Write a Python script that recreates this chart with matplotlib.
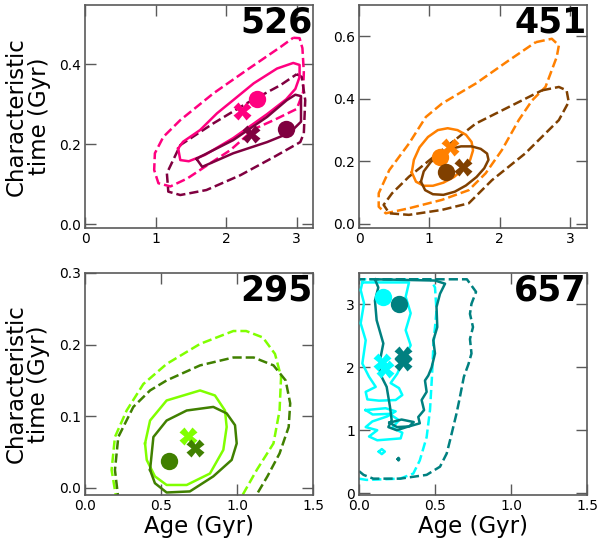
import matplotlib
matplotlib.use("Agg")
import matplotlib.pyplot as plt
import numpy as np

plt.rcParams['font.family'] = ['DejaVu Sans']

# ---------------- data ----------------
panel_names = ["526", "451", "295", "657"]

# colours: light (first) and dark (second) per panel
light_colors = ["#ff0080", "#ff8000", "#80ff00", "#00ffff"]
dark_colors = ["#800040", "#804000", "#408000", "#008080"]

xlims = [(0, 3.23), (0, 3.24), (0, 1.5), (0, 1.5)]
ylims = [(-0.01, 0.548), (-0.013, 0.70), (-0.01, 0.30), (-0.03, 3.5)]
xticks = [[0, 1, 2, 3], [0, 1, 2, 3], [0.0, 0.5, 1.0, 1.5], [0.0, 0.5, 1.0, 1.5]]
xticklabels = [["0", "1", "2", "3"], ["0", "1", "2", "3"],
               ["0.0", "0.5", "1.0", "1.5"], ["0.0", "0.5", "1.0", "1.5"]]
yticks = [[0.0, 0.2, 0.4], [0.0, 0.2, 0.4, 0.6], [0.0, 0.1, 0.2, 0.3], [0, 1, 2, 3]]
yticklabels = [["0.0", "0.2", "0.4"], ["0.0", "0.2", "0.4", "0.6"],
               ["0.0", "0.1", "0.2", "0.3"], ["0", "1", "2", "3"]]

# ---- panel 526 contours (age, tau) ----
c526_light_dash = [(2.95, 0.466), (3.04, 0.465), (3.08, 0.44), (3.10, 0.38), (3.09, 0.33),
                   (3.00, 0.288), (2.70, 0.262), (2.40, 0.238), (2.06, 0.185), (1.80, 0.155),
                   (1.45, 0.114), (1.21, 0.094), (1.04, 0.102), (0.98, 0.135), (0.99, 0.177),
                   (1.11, 0.218), (1.35, 0.26), (1.82, 0.327), (2.29, 0.385), (2.77, 0.443),
                   (2.95, 0.466)]
c526_dark_dash = [(3.00, 0.375), (3.07, 0.368), (3.12, 0.31), (3.10, 0.227), (3.05, 0.205),
                  (2.68, 0.168), (2.20, 0.122), (1.72, 0.085), (1.35, 0.0725), (1.18, 0.081),
                  (1.16, 0.127), (1.35, 0.1975), (1.82, 0.252), (2.29, 0.302), (2.77, 0.3475),
                  (3.00, 0.375)]
c526_light_solid = [(1.32, 0.189), (1.35, 0.16), (1.47, 0.157), (1.70, 0.173), (2.10, 0.215),
                    (2.58, 0.275), (2.85, 0.312), (2.98, 0.338), (3.04, 0.368), (3.04, 0.398),
                    (2.95, 0.403), (2.72, 0.389), (2.39, 0.352), (2.10, 0.31), (1.87, 0.277),
                    (1.63, 0.235), (1.39, 0.206), (1.32, 0.189)]
c526_dark_solid = [(1.58, 0.163), (1.66, 0.143), (2.10, 0.177), (2.58, 0.205), (2.90, 0.228),
                   (3.06, 0.256), (3.06, 0.32), (2.98, 0.3235), (2.86, 0.31), (2.58, 0.268),
                   (2.10, 0.21), (1.63, 0.168), (1.58, 0.163)]
m526_light_circle = [(2.43, 0.314)]
m526_light_x = [(2.23, 0.283)]
m526_dark_circle = [(2.85, 0.237)]
m526_dark_x = [(2.35, 0.225)]

# ---- panel 451 ----
c451_light_dash = [(2.51, 0.581), (2.74, 0.592), (2.84, 0.571), (2.81, 0.534), (2.65, 0.438),
                   (2.46, 0.395), (2.27, 0.332), (2.03, 0.236), (1.80, 0.162), (1.56, 0.108),
                   (1.18, 0.077), (0.71, 0.05), (0.38, 0.034), (0.28, 0.055), (0.28, 0.098),
                   (0.43, 0.172), (0.71, 0.257), (0.95, 0.342), (1.18, 0.385), (1.66, 0.449),
                   (2.13, 0.523), (2.51, 0.581)]
c451_dark_dash = [(2.60, 0.427), (2.84, 0.438), (2.95, 0.427), (2.98, 0.39), (2.84, 0.332),
                  (2.36, 0.225), (1.89, 0.14), (1.56, 0.066), (1.18, 0.045), (0.71, 0.029),
                  (0.43, 0.034), (0.35, 0.061), (0.47, 0.098), (0.71, 0.151), (1.18, 0.236),
                  (1.66, 0.321), (2.13, 0.374), (2.60, 0.427)]
c451_light_solid = [(0.75, 0.165), (0.78, 0.205), (0.86, 0.245), (0.98, 0.278), (1.12, 0.300),
                    (1.26, 0.306), (1.40, 0.300), (1.52, 0.285), (1.60, 0.262), (1.62, 0.235),
                    (1.58, 0.205), (1.48, 0.175), (1.35, 0.150), (1.20, 0.132), (1.05, 0.122),
                    (0.92, 0.122), (0.81, 0.135), (0.75, 0.165)]
c451_dark_solid = [(0.88, 0.135), (0.92, 0.168), (1.02, 0.198), (1.15, 0.222), (1.30, 0.240),
                   (1.45, 0.248), (1.60, 0.248), (1.73, 0.240), (1.82, 0.225), (1.84, 0.205),
                   (1.78, 0.178), (1.67, 0.150), (1.52, 0.123), (1.36, 0.103), (1.20, 0.093),
                   (1.05, 0.095), (0.94, 0.108), (0.88, 0.135)]
m451_light_circle = [(1.15, 0.215)]
m451_light_x = [(1.29, 0.247)]
m451_dark_circle = [(1.24, 0.167)]
m451_dark_x = [(1.48, 0.183)]

# ---- panel 295 ----
c295_light_dash = [(0.21, -0.02), (0.175, 0.025), (0.197, 0.071), (0.274, 0.108), (0.384, 0.145),
                   (0.537, 0.173), (0.757, 0.201), (0.976, 0.219), (1.06, 0.219), (1.17, 0.21),
                   (1.25, 0.187), (1.29, 0.155), (1.28, 0.108), (1.24, 0.062), (1.13, 0.025),
                   (1.01, -0.02)]
c295_dark_dash = [(0.222, -0.02), (0.197, 0.025), (0.219, 0.071), (0.318, 0.113), (0.428, 0.136),
                  (0.537, 0.15), (0.757, 0.171), (0.976, 0.182), (1.11, 0.182), (1.24, 0.171),
                  (1.32, 0.15), (1.35, 0.118), (1.34, 0.085), (1.28, 0.048), (1.20, 0.016),
                  (1.10, -0.02)]
c295_light_solid = [(0.395, 0.062), (0.428, 0.094), (0.537, 0.122), (0.757, 0.136), (0.855, 0.129),
                    (0.921, 0.108), (0.932, 0.085), (0.91, 0.053), (0.822, 0.02), (0.669, 0.004),
                    (0.537, 0.004), (0.46, 0.016), (0.406, 0.039), (0.395, 0.062)]
c295_dark_solid = [(0.428, 0.025), (0.45, 0.071), (0.537, 0.094), (0.669, 0.108), (0.844, 0.113),
                   (0.932, 0.104), (0.987, 0.0875), (0.998, 0.062), (0.965, 0.039), (0.844, 0.016),
                   (0.69, -0.005), (0.537, -0.0065), (0.46, 0.0065), (0.428, 0.025)]
m295_light_circle = []
m295_light_x = [(0.68, 0.072)]
m295_dark_circle = [(0.555, 0.0375)]
m295_dark_x = [(0.724, 0.055)]

# ---- panel 657 ----
c657_light_dash = [(0.0, 0.23), (0.05, 0.21), (0.27, 0.23), (0.357, 0.31), (0.40, 0.52),
                   (0.445, 0.89), (0.467, 1.32), (0.48, 1.85), (0.49, 2.38), (0.51, 2.90),
                   (0.50, 3.27), (0.47, 3.40), (0.0, 3.40)]
c657_dark_dash = [(0.0, 0.35), (0.03, 0.29), (0.094, 0.23), (0.27, 0.23), (0.445, 0.29),
                  (0.533, 0.42), (0.577, 0.63), (0.60, 0.85), (0.62, 1.05), (0.64, 1.25),
                  (0.66, 1.48), (0.69, 1.85), (0.72, 2.05), (0.74, 2.22), (0.73, 2.45),
                  (0.75, 2.64), (0.73, 2.85), (0.74, 3.01), (0.77, 3.2), (0.71, 3.40),
                  (0.0, 3.40)]
c657_light_solid = [(0.022, 3.35), (0.329, 3.35), (0.307, 3.12), (0.34, 2.86), (0.307, 2.59),
                    (0.34, 2.35), (0.285, 2.09), (0.252, 1.90), (0.208, 1.75), (0.263, 1.67),
                    (0.285, 1.56), (0.241, 1.48), (0.132, 1.47), (0.055, 1.49), (0.044, 1.61),
                    (0.11, 1.69), (0.066, 1.85), (0.022, 2.06), (0.044, 2.43), (0.011, 2.70),
                    (0.033, 3.02), (0.011, 3.23), (0.022, 3.35)]
c657_light_solid2 = [(0.044, 1.32), (0.175, 1.35), (0.241, 1.30), (0.186, 1.22), (0.088, 1.14),
                     (0.044, 1.05), (0.12, 1.00), (0.066, 0.90), (0.12, 0.84), (0.274, 0.87),
                     (0.285, 0.96), (0.219, 1.04), (0.263, 1.16), (0.20, 1.26), (0.09, 1.25),
                     (0.044, 1.32)]
c657_light_solid3 = [(0.13, 0.66), (0.15, 0.70), (0.17, 0.66), (0.15, 0.62), (0.13, 0.66)]
c657_dark_solid = [(0.105, 3.40), (0.50, 3.38), (0.566, 3.33), (0.533, 3.17), (0.51, 2.96),
                   (0.515, 2.64), (0.489, 2.43), (0.50, 2.22), (0.478, 2.0), (0.456, 1.87),
                   (0.434, 1.79), (0.445, 1.61), (0.412, 1.48), (0.428, 1.32), (0.39, 1.21),
                   (0.40, 1.11), (0.313, 1.05), (0.248, 1.0), (0.193, 1.05), (0.215, 1.16),
                   (0.204, 1.37), (0.182, 1.69), (0.138, 1.90), (0.138, 2.11), (0.16, 2.38),
                   (0.116, 2.75), (0.105, 3.06), (0.127, 3.27), (0.105, 3.40)]
c657_dark_solid2 = [(0.20, 1.12), (0.28, 1.17), (0.36, 1.13), (0.33, 1.06), (0.25, 1.05),
                    (0.20, 1.12)]
c657_dark_solid3 = [(0.255, 0.54), (0.26, 0.56), (0.265, 0.54), (0.26, 0.52), (0.255, 0.54)]
m657_light_circle = [(0.16, 3.12)]
m657_light_x = [(0.153, 2.09), (0.17, 1.98)]
m657_dark_circle = [(0.26, 3.01)]
m657_dark_x = [(0.29, 2.19), (0.29, 2.08)]

panels = [
    dict(light_dash=[c526_light_dash], dark_dash=[c526_dark_dash],
         light_solid=[c526_light_solid], dark_solid=[c526_dark_solid],
         lc=m526_light_circle, lx=m526_light_x, dc=m526_dark_circle, dx=m526_dark_x),
    dict(light_dash=[c451_light_dash], dark_dash=[c451_dark_dash],
         light_solid=[c451_light_solid], dark_solid=[c451_dark_solid],
         lc=m451_light_circle, lx=m451_light_x, dc=m451_dark_circle, dx=m451_dark_x),
    dict(light_dash=[c295_light_dash], dark_dash=[c295_dark_dash],
         light_solid=[c295_light_solid], dark_solid=[c295_dark_solid],
         lc=m295_light_circle, lx=m295_light_x, dc=m295_dark_circle, dx=m295_dark_x),
    dict(light_dash=[c657_light_dash], dark_dash=[c657_dark_dash],
         light_solid=[c657_light_solid, c657_light_solid2, c657_light_solid3],
         dark_solid=[c657_dark_solid, c657_dark_solid2, c657_dark_solid3],
         lc=m657_light_circle, lx=m657_light_x, dc=m657_dark_circle, dx=m657_dark_x),
]

# ---------------- figure ----------------
fig = plt.figure(figsize=(6.01, 5.43), dpi=100)
W, H = 601.0, 543.0
boxes = [(85, 5, 313, 228), (359, 5, 587, 228), (85, 273, 313, 495), (359, 273, 587, 495)]

spine_col = "#5a5a5a"
lw = 1.8
ms = 12.5

for i, (b, p) in enumerate(zip(boxes, panels)):
    l, t, r, bt = b
    ax = fig.add_axes([l / W, 1 - bt / H, (r - l) / W, (bt - t) / H])
    lcol, dcol = light_colors[i], dark_colors[i]

    for c in p["light_dash"]:
        a = np.array(c)
        ax.plot(a[:, 0], a[:, 1], color=lcol, lw=lw, ls="--", zorder=2)
    for c in p["dark_dash"]:
        a = np.array(c)
        ax.plot(a[:, 0], a[:, 1], color=dcol, lw=lw, ls="--", zorder=2)
    for c in p["light_solid"]:
        a = np.array(c)
        ax.plot(a[:, 0], a[:, 1], color=lcol, lw=lw, ls="-", zorder=3)
    for c in p["dark_solid"]:
        a = np.array(c)
        ax.plot(a[:, 0], a[:, 1], color=dcol, lw=lw, ls="-", zorder=3)

    for pts, col, mk in [(p["lc"], lcol, "o"), (p["lx"], lcol, "X"),
                         (p["dc"], dcol, "o"), (p["dx"], dcol, "X")]:
        if pts:
            a = np.array(pts)
            ax.plot(a[:, 0], a[:, 1], ls="none", marker=mk, ms=ms, color=col,
                    mec="none", zorder=5)

    ax.set_xlim(*xlims[i])
    ax.set_ylim(*ylims[i])
    ax.set_xticks(xticks[i])
    ax.set_xticklabels(xticklabels[i])
    ax.set_yticks(yticks[i])
    ax.set_yticklabels(yticklabels[i])
    ax.tick_params(direction="in", length=8, width=1, colors=spine_col,
                   labelcolor="black", labelsize=10, top=True, right=True, pad=3)
    for s in ax.spines.values():
        s.set_color(spine_col)
        s.set_linewidth(1.2)

    ax.text(0.998, 0.997, panel_names[i], transform=ax.transAxes, ha="right", va="top",
            fontsize=25, fontweight="bold", color="black", zorder=10)

    if i in (0, 2):
        ax.set_ylabel("Characteristic\ntime (Gyr)", fontsize=16.5, labelpad=6,
                      linespacing=1.0)
    if i in (2, 3):
        ax.set_xlabel("Age (Gyr)", fontsize=16.5, labelpad=1)

fig.savefig("out.png", dpi=100)
